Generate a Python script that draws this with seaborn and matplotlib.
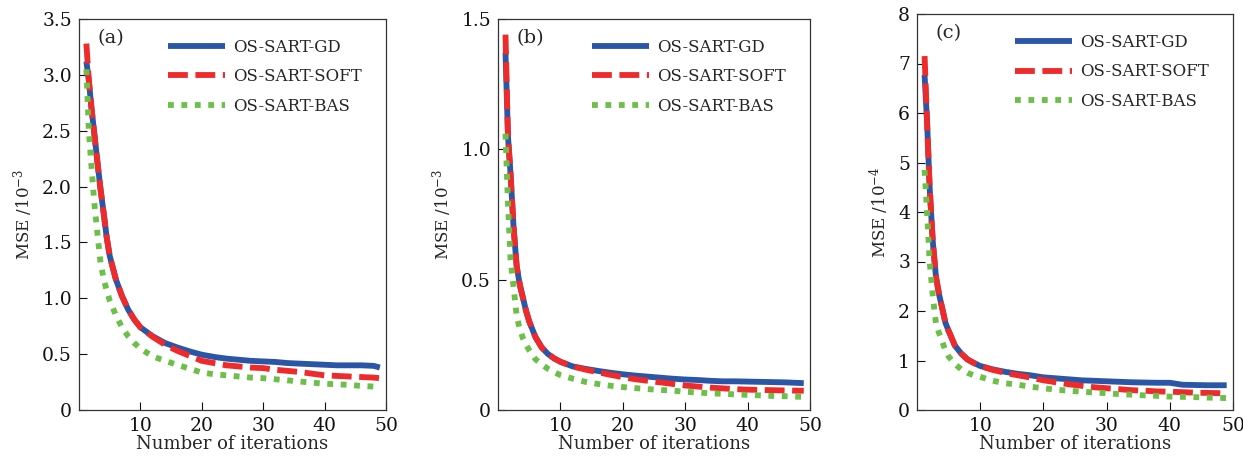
import matplotlib
matplotlib.use("Agg")
import matplotlib.pyplot as plt
import seaborn as sns
import pandas as pd

sns.set_theme(style="ticks")
plt.rcParams['font.family'] = ['DejaVu Serif']
plt.rcParams['mathtext.fontset'] = 'dejavuserif'

iters = [1.2, 1.6, 2, 2.5, 3, 3.5, 4, 4.5, 5, 6, 7, 8, 9, 10, 12, 14, 16, 18, 20,
         22, 24, 26, 28, 30, 32, 34, 36, 38, 40, 42, 44, 46, 48, 49]
methods = ["OS-SART-GD", "OS-SART-SOFT", "OS-SART-BAS"]

# Panel (a), MSE / 1e-3
a_gd = [3.12, 2.95, 2.72, 2.47, 2.22, 1.98, 1.77, 1.55, 1.38, 1.17, 1.02, 0.90, 0.81, 0.74,
        0.66, 0.60, 0.56, 0.525, 0.495, 0.475, 0.46, 0.45, 0.44, 0.435, 0.43, 0.42, 0.415,
        0.41, 0.405, 0.40, 0.40, 0.40, 0.395, 0.38]
a_soft = [3.28, 2.95, 2.72, 2.47, 2.22, 1.98, 1.77, 1.55, 1.38, 1.17, 1.02, 0.90, 0.81, 0.74,
          0.655, 0.585, 0.53, 0.485, 0.44, 0.42, 0.40, 0.39, 0.38, 0.375, 0.36, 0.35, 0.34,
          0.325, 0.31, 0.305, 0.30, 0.295, 0.29, 0.285]
a_bas = [3.05, 2.50, 2.20, 1.85, 1.58, 1.32, 1.18, 1.07, 0.98, 0.85, 0.74, 0.66, 0.60, 0.55,
         0.48, 0.44, 0.405, 0.37, 0.335, 0.32, 0.31, 0.30, 0.29, 0.285, 0.275, 0.265, 0.255,
         0.245, 0.235, 0.23, 0.225, 0.215, 0.21, 0.205]

# Panel (b), MSE / 1e-3
b_gd = [1.37, 1.05, 0.91, 0.70, 0.55, 0.48, 0.43, 0.38, 0.34, 0.28, 0.24, 0.215, 0.198, 0.185,
        0.167, 0.158, 0.15, 0.143, 0.137, 0.132, 0.128, 0.124, 0.12, 0.117, 0.115, 0.112,
        0.11, 0.11, 0.109, 0.108, 0.107, 0.106, 0.104, 0.103]
b_soft = [1.44, 1.05, 0.91, 0.70, 0.55, 0.48, 0.43, 0.38, 0.34, 0.28, 0.24, 0.215, 0.198, 0.185,
          0.167, 0.155, 0.145, 0.135, 0.126, 0.118, 0.112, 0.106, 0.10, 0.094, 0.09, 0.086,
          0.083, 0.08, 0.078, 0.077, 0.076, 0.075, 0.074, 0.074]
b_bas = [1.06, 0.79, 0.58, 0.47, 0.36, 0.31, 0.275, 0.25, 0.23, 0.195, 0.175, 0.158, 0.145,
         0.134, 0.12, 0.108, 0.10, 0.093, 0.088, 0.084, 0.08, 0.077, 0.074, 0.07, 0.067, 0.064,
         0.062, 0.06, 0.058, 0.056, 0.054, 0.053, 0.051, 0.05]

# Panel (c), MSE / 1e-4
c_gd = [6.77, 5.8, 4.5, 3.4, 2.69, 2.33, 2.05, 1.76, 1.6, 1.3, 1.14, 1.02, 0.95, 0.89,
        0.82, 0.77, 0.73, 0.70, 0.66, 0.64, 0.62, 0.60, 0.59, 0.58, 0.57, 0.56, 0.555,
        0.55, 0.55, 0.51, 0.505, 0.50, 0.50, 0.50]
c_soft = [7.15, 5.8, 4.5, 3.4, 2.69, 2.33, 2.05, 1.76, 1.6, 1.3, 1.14, 1.02, 0.95, 0.89,
          0.81, 0.75, 0.70, 0.655, 0.60, 0.56, 0.52, 0.49, 0.46, 0.44, 0.42, 0.40, 0.39,
          0.375, 0.37, 0.36, 0.35, 0.345, 0.34, 0.34]
c_bas = [4.85, 3.98, 3.0, 2.3, 1.75, 1.55, 1.38, 1.2, 1.08, 0.93, 0.82, 0.75, 0.70, 0.67,
         0.59, 0.54, 0.51, 0.47, 0.44, 0.41, 0.39, 0.37, 0.355, 0.34, 0.32, 0.31, 0.295,
         0.285, 0.27, 0.265, 0.26, 0.25, 0.245, 0.24]

panels = [
    ("(a)", [a_gd, a_soft, a_bas], (0, 3.5), [0, 0.5, 1.0, 1.5, 2.0, 2.5, 3.0, 3.5],
     ["0", "0.5", "1.0", "1.5", "2.0", "2.5", "3.0", "3.5"], "MSE /10$^{-3}$"),
    ("(b)", [b_gd, b_soft, b_bas], (0, 1.5), [0, 0.5, 1.0, 1.5],
     ["0", "0.5", "1.0", "1.5"], "MSE /10$^{-3}$"),
    ("(c)", [c_gd, c_soft, c_bas], (0, 8), [0, 1, 2, 3, 4, 5, 6, 7, 8],
     ["0", "1", "2", "3", "4", "5", "6", "7", "8"], "MSE /10$^{-4}$"),
]
xticks = [10, 20, 30, 40, 50]

colors = {"OS-SART-GD": "#2a56a8", "OS-SART-SOFT": "#ee2a2a", "OS-SART-BAS": "#6cc04a"}
styles = {"OS-SART-GD": "", "OS-SART-SOFT": (3.4, 1.3), "OS-SART-BAS": (1.0, 1.3)}
LW = 4.2

fig = plt.figure(figsize=(12.43, 4.59), dpi=100)
rects = [
    [79 / 1243, 1 - 410 / 459, 307 / 1243, 391 / 459],
    [498 / 1243, 1 - 410 / 459, 312 / 1243, 391 / 459],
    [917 / 1243, 1 - 410 / 459, 316 / 1243, 396 / 459],
]

for rect, (tag, series, ylim, yt, ytl, ylab) in zip(rects, panels):
    ax = fig.add_axes(rect)
    rows = []
    for m, vals in zip(methods, series):
        for x, v in zip(iters, vals):
            rows.append({"iter": x, "mse": v, "method": m})
    df = pd.DataFrame(rows)
    sns.lineplot(data=df, x="iter", y="mse", hue="method", style="method",
                 hue_order=methods, style_order=methods, palette=colors,
                 dashes=styles, linewidth=LW, ax=ax, legend=True)
    for line in ax.get_lines():
        line.set_dash_capstyle("butt")
        line.set_solid_capstyle("butt")
    ax.set_xlim(0, 50)
    ax.set_ylim(*ylim)
    ax.set_xticks(xticks)
    ax.set_xticklabels([str(t) for t in xticks], fontsize=13.5)
    ax.set_yticks(yt)
    ax.set_yticklabels(ytl, fontsize=13.5)
    ax.tick_params(direction="in", length=6, width=0.8, colors="#111111", pad=5)
    ax.set_xlabel("Number of iterations", fontsize=13, labelpad=0)
    ax.set_ylabel(ylab, fontsize=12, labelpad=5)
    for s in ax.spines.values():
        s.set_linewidth(0.9)
        s.set_color("#333333")
    ax.text(0.06, 0.975, tag, transform=ax.transAxes, fontsize=14, va="top", ha="left")
    leg = ax.legend(loc="upper right", frameon=False, fontsize=12,
                    handlelength=3.4, handletextpad=0.5, labelspacing=0.75,
                    bbox_to_anchor=(0.955, 0.975), borderaxespad=0.2)
    for h in leg.get_lines():
        h.set_linewidth(LW)
        h.set_dash_capstyle("butt")

fig.savefig("out.png", dpi=100)
